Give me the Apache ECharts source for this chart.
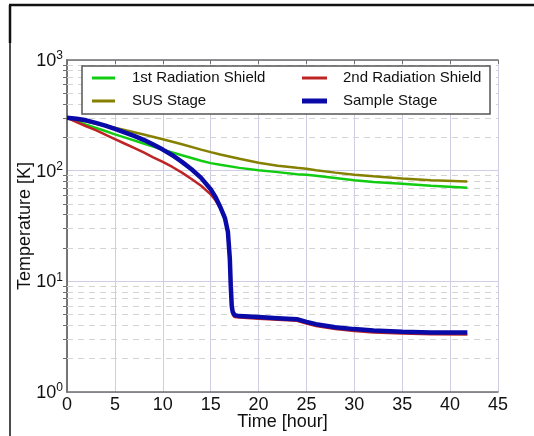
<!DOCTYPE html>
<html>
<head>
<meta charset="utf-8">
<script src="https://cdn.jsdelivr.net/npm/echarts@6/dist/echarts.min.js"></script>
<style>
  html, body { margin: 0; padding: 0; background: #fff; }
  #chart { width: 534px; height: 436px; }
</style>
</head>
<body>
<div id="chart"></div>
<script>
// cryostat cool-down, hours vs kelvin
const stageHours = [0, 1, 2, 3, 4, 5, 6, 7, 8, 9, 10, 11, 12, 13, 14, 15, 15.5, 16, 16.5, 16.8, 17.0, 17.1, 17.2, 17.3, 17.5, 18, 20, 22, 24, 25, 26, 28, 30, 32, 35, 38, 41.8];
const sampleStage = [300, 295, 285, 270, 255, 238, 222, 206, 190, 172, 155, 138, 120, 103, 86, 68, 58, 47, 37, 28, 16, 9, 6, 5.3, 4.95, 4.85, 4.75, 4.65, 4.55, 4.3, 4.1, 3.85, 3.7, 3.6, 3.5, 3.45, 3.45];
const shield2 = [300, 275, 252, 232, 212, 193, 176, 161, 146, 132, 120, 108, 96, 84, 73, 61, 54, 46, 36, 27, 15, 8.5, 5.8, 5.0, 4.75, 4.7, 4.6, 4.5, 4.4, 4.15, 3.95, 3.7, 3.55, 3.45, 3.38, 3.32, 3.3];

const warmHours = [0, 2, 4, 5, 6, 8, 10, 12, 14, 15, 16, 18, 20, 22, 24, 25, 26, 28, 30, 32, 35, 38, 41.8];
const shield1 = [300, 260, 228, 213, 200, 176, 155, 138, 123, 117, 113, 106, 101, 97, 93, 92, 90, 86, 82, 79, 76, 73, 70];
const susStage = [300, 278, 255, 244, 233, 212, 192, 173, 155, 147, 140, 128, 118, 111, 106, 104, 101, 96, 92, 89, 85, 82, 80];

const decadeTicks = [1, 10, 100, 1000];
const minorTicks = [2, 3, 4, 5, 6, 7, 8, 9, 20, 30, 40, 50, 60, 70, 80, 90, 200, 300, 400, 500, 600, 700, 800, 900];

const pairs = (xs, ys) => xs.map((x, i) => [x, ys[i]]);

const FONT = "Liberation Sans, Arial, sans-serif";
const GRID_MAJOR = "#cfcde6";
const GRID_MINOR = "#d4d4d4";
const AXIS = "#6e6e6e";

const chart = echarts.init(document.getElementById("chart"));

const supLabel = (v) => "{b|10}{s|" + Math.round(Math.log10(v)) + "}";
const labelRich = {
  b: { fontSize: 18, fontFamily: FONT, color: "#111", verticalAlign: "bottom", lineHeight: 20 },
  s: { fontSize: 12, fontFamily: FONT, color: "#111", verticalAlign: "top", lineHeight: 20, padding: [0, 0, 8, 0] },
};

function lineSeries(name, data, color, width) {
  return {
    name,
    type: "line",
    data,
    symbol: "none",
    lineStyle: { color, width },
    itemStyle: { color },
    z: 3,
  };
}

function legendBox(names, left, top, itemWidth, itemHeight, textPad) {
  return {
    data: names,
    orient: "vertical",
    left,
    top,
    padding: 0,
    itemGap: 5,
    icon: "rect",
    itemWidth,
    itemHeight,
    z: 6,
    textStyle: { fontSize: 15, color: "#111", lineHeight: 18, padding: [0, 0, 0, textPad] },
  };
}

const logAxisBase = {
  type: "log",
  logBase: 10,
  min: 1,
  max: 1000,
  axisLine: { show: true, lineStyle: { color: AXIS, width: 1.5 } },
  axisTick: {
    show: true,
    inside: true,
    length: 4,
    customValues: minorTicks,
    lineStyle: { color: AXIS },
  },
};

chart.setOption({
  animation: false,
  textStyle: { fontFamily: FONT },
  grid: { left: 67, right: 36, top: 60, bottom: 43 },
  legend: [
    legendBox(["1st Radiation Shield", "SUS Stage"], 92, 69, 23, 3, 12),
    legendBox(["2nd Radiation Shield"], 302, 69, 25, 3, 11),
    legendBox(["Sample Stage"], 302, 92, 25, 5, 11),
  ],
  xAxis: [
    {
      type: "value",
      min: 0,
      max: 45,
      interval: 5,
      name: "Time [hour]",
      nameLocation: "middle",
      nameGap: 21,
      nameMoveOverlap: false,
      nameTextStyle: { fontSize: 18, color: "#111" },
      axisLine: { lineStyle: { color: AXIS, width: 1.5 } },
      axisTick: { show: false },
      axisLabel: { fontSize: 18, color: "#111", margin: 4 },
      splitLine: { show: true, lineStyle: { color: GRID_MAJOR, width: 1 } },
    },
    {
      type: "value",
      position: "top",
      min: 0,
      max: 45,
      interval: 5,
      axisLine: { show: true, lineStyle: { color: AXIS, width: 1.5 } },
      axisTick: { show: true, inside: true, length: 4, lineStyle: { color: AXIS } },
      axisLabel: { show: false },
      splitLine: { show: false },
    },
  ],
  yAxis: [
    Object.assign({}, logAxisBase, {
      name: "Temperature [K]",
      nameLocation: "middle",
      nameGap: 33,
      nameMoveOverlap: false,
      nameTextStyle: { fontSize: 18, color: "#111" },
      axisLabel: { formatter: supLabel, rich: labelRich, margin: 4, customValues: decadeTicks },
      splitLine: { show: false },
    }),
    Object.assign({}, logAxisBase, {
      position: "right",
      axisLabel: { show: false },
      splitLine: { show: false },
    }),
    {
      type: "log",
      logBase: 10,
      min: 1,
      max: 1000,
      position: "left",
      axisLine: { show: false },
      axisTick: { show: false },
      axisLabel: { show: false },
      splitLine: { show: true, lineStyle: { color: GRID_MAJOR, width: 1 } },
    },
  ],
  graphic: [
    {
      type: "rect",
      z: 5,
      shape: { x: 82, y: 66, width: 408, height: 48 },
      style: { fill: "#fff", stroke: "#555", lineWidth: 1.5 },
    },
    { type: "line", shape: { x1: 9, y1: 5, x2: 534, y2: 5 }, style: { stroke: "#111", lineWidth: 2.5 } },
    { type: "line", shape: { x1: 10, y1: 5, x2: 10, y2: 43 }, style: { stroke: "#111", lineWidth: 2.5 } },
    { type: "line", shape: { x1: 10, y1: 43, x2: 10, y2: 436 }, style: { stroke: "#111", lineWidth: 1.5 } },
  ],
  series: [
    {
      name: "minor-grid",
      type: "line",
      data: [],
      z: 1,
      silent: true,
      markLine: {
        silent: true,
        z: 1,
        symbol: "none",
        label: { show: false },
        lineStyle: { color: GRID_MINOR, type: [6, 5], width: 1 },
        emphasis: { disabled: true },
        data: minorTicks.map((v) => ({ yAxis: v })),
      },
    },
    lineSeries("1st Radiation Shield", pairs(warmHours, shield1), "#12cc12", 2.5),
    lineSeries("SUS Stage", pairs(warmHours, susStage), "#858000", 2.5),
    lineSeries("2nd Radiation Shield", pairs(stageHours, shield2), "#bf2424", 2.5),
    lineSeries("Sample Stage", pairs(stageHours, sampleStage), "#0a0aa8", 4.5),
  ],
});
</script>
</body>
</html>
